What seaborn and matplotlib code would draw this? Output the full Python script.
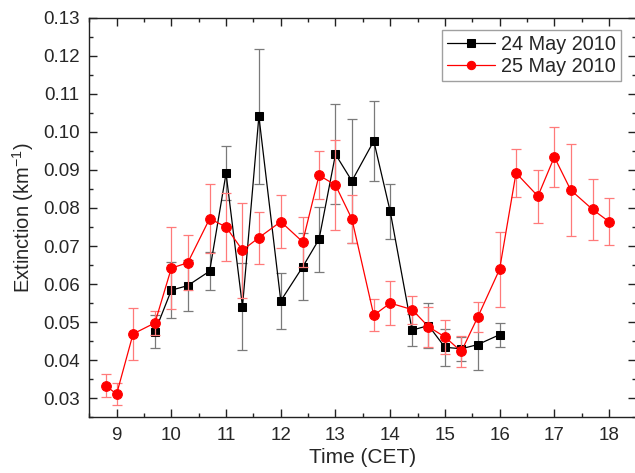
import numpy as np
import pandas as pd
import matplotlib
matplotlib.use("Agg")
import matplotlib.pyplot as plt
from matplotlib.ticker import MultipleLocator, FormatStrFormatter
import seaborn as sns

# ---- data ----
t24 = [9.7, 10.0, 10.3, 10.7, 11.0, 11.3, 11.6, 12.0, 12.4, 12.7, 13.0, 13.3,
       13.7, 14.0, 14.4, 14.7, 15.0, 15.3, 15.6, 16.0]
e24 = [0.0475, 0.0584, 0.0596, 0.0634, 0.0891, 0.0541, 0.1041, 0.0556, 0.0645,
       0.0718, 0.0941, 0.0871, 0.0976, 0.0791, 0.0479, 0.0491, 0.0434, 0.0430,
       0.0441, 0.0467]
err24 = [0.0043, 0.0073, 0.0068, 0.0050, 0.0071, 0.0115, 0.0177, 0.0073, 0.0088,
         0.0085, 0.0131, 0.0162, 0.0104, 0.0073, 0.0043, 0.0060, 0.0048, 0.0032,
         0.0067, 0.0032]

t25 = [8.8, 9.0, 9.3, 9.7, 10.0, 10.3, 10.7, 11.0, 11.3, 11.6, 12.0, 12.4, 12.7,
       13.0, 13.3, 13.7, 14.0, 14.4, 14.7, 15.0, 15.3, 15.6, 16.0, 16.3, 16.7,
       17.0, 17.3, 17.7, 18.0]
e25 = [0.0333, 0.0311, 0.0469, 0.0498, 0.0642, 0.0656, 0.0772, 0.0750, 0.0689,
       0.0722, 0.0764, 0.0711, 0.0886, 0.0860, 0.0771, 0.0518, 0.0550, 0.0533,
       0.0488, 0.0461, 0.0423, 0.0513, 0.0639, 0.0892, 0.0831, 0.0934, 0.0847,
       0.0796, 0.0764]
err25 = [0.0030, 0.0030, 0.0068, 0.0032, 0.0107, 0.0072, 0.0090, 0.0090, 0.0125,
         0.0068, 0.0070, 0.0065, 0.0063, 0.0118, 0.0063, 0.0042, 0.0057, 0.0037,
         0.0053, 0.0045, 0.0040, 0.0040, 0.0098, 0.0062, 0.0070, 0.0078, 0.0120,
         0.0080, 0.0061]

labels = ["24 May 2010", "25 May 2010"]

df24 = pd.DataFrame({"time": t24, "ext": e24, "err": err24})
df25 = pd.DataFrame({"time": t25, "ext": e25, "err": err25})

# ---- style ----
sns.set_style("ticks")
plt.rcParams["font.family"] = ["Liberation Sans", "DejaVu Sans"]
plt.rcParams["mathtext.default"] = "regular"

fig = plt.figure(figsize=(6.35, 4.73), dpi=100)
ax = fig.add_axes([0.1406, 0.1178, 0.8616, 0.8448])

# black series
ax.errorbar(df24["time"], df24["ext"], yerr=df24["err"], fmt="none",
            ecolor="#7a7a7a", elinewidth=0.9, capsize=3.5, capthick=0.9,
            zorder=2)
sns.lineplot(data=df24, x="time", y="ext", ax=ax, color="black",
             marker="s", markersize=6.2, markeredgecolor="black",
             linewidth=0.9, label=labels[0], zorder=3, sort=False)

# red series
ax.errorbar(df25["time"], df25["ext"], yerr=df25["err"], fmt="none",
            ecolor="#ff7a7a", elinewidth=0.9, capsize=3.5, capthick=0.9,
            zorder=4)
sns.lineplot(data=df25, x="time", y="ext", ax=ax, color="red",
             marker="o", markersize=7, markeredgecolor="red",
             linewidth=0.9, label=labels[1], zorder=5, sort=False)

ax.set_xlim(8.5, 18.5)
ax.set_ylim(0.025, 0.13)
ax.xaxis.set_major_locator(MultipleLocator(1))
ax.xaxis.set_minor_locator(MultipleLocator(0.5))
ax.yaxis.set_major_locator(MultipleLocator(0.01))
ax.yaxis.set_minor_locator(MultipleLocator(0.005))
ax.yaxis.set_major_formatter(FormatStrFormatter("%.2f"))

for side in ["left", "right", "top", "bottom"]:
    ax.spines[side].set_visible(True)
    ax.spines[side].set_color("#222222")
    ax.spines[side].set_linewidth(1.0)

ax.tick_params(which="both", direction="in", top=True, right=True,
               color="#222222", width=1.0)
ax.tick_params(which="major", length=5.5)
ax.tick_params(which="minor", length=3)
ax.tick_params(axis="x", which="major", labelsize=13.5, pad=7)
ax.tick_params(axis="y", which="major", labelsize=13.5, pad=7)

ax.set_xlabel("Time (CET)", fontsize=15, labelpad=3)
ax.set_ylabel("Extinction (km$^{-1}$)", fontsize=14.5, labelpad=5)

leg = ax.legend(loc="upper right", bbox_to_anchor=(0.982, 0.985),
                fontsize=14.3, frameon=True, fancybox=False,
                handlelength=2.4, handletextpad=0.3, borderpad=0.25,
                labelspacing=0.15, borderaxespad=0.3)
leg.get_frame().set_edgecolor("#888888")
leg.get_frame().set_linewidth(1.0)
for h in leg.legend_handles:
    h.set_markersize(6)

fig.savefig("out.png", dpi=100)
